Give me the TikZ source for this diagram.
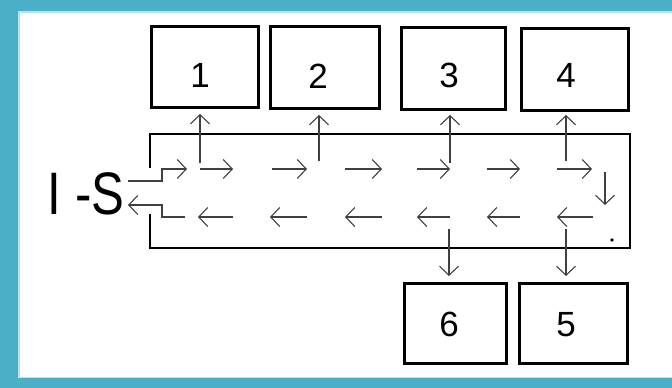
\documentclass[tikz,border=0pt]{standalone}
\usepackage{fontspec}
\setmainfont{Liberation Sans}
\usetikzlibrary{arrows.meta}
\definecolor{tealband}{HTML}{4BAFC8}
\definecolor{tealline}{HTML}{B8E2EC}
\begin{document}
\begin{tikzpicture}[x=1pt,y=-1pt,
  room/.style={draw=black, line width=2.6pt, inner sep=0pt},
  digit/.style={font=\fontsize{35}{35}\selectfont, anchor=base, inner sep=0pt},
  flow/.style={draw=black!75, line width=1.1pt, -{Straight Barb[length=9pt,width=19pt,line width=1.1pt]}},
  wall/.style={draw=black, line width=2.6pt, line cap=rect}]
\useasboundingbox (0,0) rectangle (672,388);
\fill[white] (0,0) rectangle (672,388);
% frame
\fill[tealband] (0,0) rectangle (18,388);
\fill[tealband] (0,0) rectangle (672,11);
\fill[tealband] (0,378) rectangle (672,388);
\draw[tealline, line width=1.5pt] (18.75,377.25) -- (18.75,11.75) -- (672,11.75);
\draw[tealline, line width=1.5pt] (18.75,377.25) -- (672,377.25);
% rooms
\node[room, minimum width=107.4pt, minimum height=81.4pt] (r1) at (205,67) {};
\node[room, minimum width=109.4pt, minimum height=82.4pt] (r2) at (325,67.5) {};
\node[room, minimum width=104.4pt, minimum height=82.4pt] (r3) at (453.5,68.5) {};
\node[room, minimum width=107.4pt, minimum height=82.4pt] (r4) at (575,69.5) {};
\node[room, minimum width=102.4pt, minimum height=80.4pt] (r6) at (455.5,323.5) {};
\node[room, minimum width=108.4pt, minimum height=80.4pt] (r5) at (573.5,323.5) {};
\node[digit] (n1) at (200,87.5) {1};
\node[digit] (n2) at (318,88.5) {2};
\node[digit] (n3) at (449,87.5) {3};
\node[digit] (n4) at (566,87.5) {4};
\node[digit] (n6) at (449,336.5) {6};
\node[digit] (n5) at (566,336.5) {5};
% channel
\draw[wall] (150,167) -- (150,134) -- (630,134) -- (630,248) -- (150,248) -- (150,215);
% label
\node[font=\fontsize{60}{60}\selectfont, anchor=base, inner sep=0pt] (IS) at (86,214) {\scalebox{0.82}[1]{I -S}};
% inlet and outlet
\coordinate (in0) at (128,181);
\coordinate (out0) at (185,217);
\draw[flow] (in0) -- (162,181) -- (162,169) -- (187,169);
\draw[flow] (out0) -- (162,217) -- (162,205) -- (128,205);
% flow arrows
\foreach \a/\b in {200/233, 272/307, 345/382, 417/450, 487/520, 557/592}
  \draw[flow] (\a,169) -- (\b,169);
\foreach \a/\b in {593/557, 520/487, 450/417, 382/345, 307/270, 233/198}
  \draw[flow] (\a,217) -- (\b,217);
\draw[flow] (605,172) -- (605,205);
% branches
\coordinate (b1) at (200,163);
\coordinate (b2) at (319,161);
\coordinate (b3) at (450,163);
\coordinate (b4) at (566,161);
\coordinate (b6) at (449,229);
\coordinate (b5) at (566,229);
\draw[flow, shorten >=5pt] (b1) -- (b1 |- r1.south);
\draw[flow, shorten >=5pt] (b2) -- (b2 |- r2.south);
\draw[flow, shorten >=4pt] (b3) -- (b3 |- r3.south);
\draw[flow, shorten >=3pt] (b4) -- (b4 |- r4.south);
\draw[flow, shorten >=6pt] (b6) -- (b6 |- r6.north);
\draw[flow, shorten >=6pt] (b5) -- (b5 |- r5.north);
\fill (612,240) circle (1.8pt);
\end{tikzpicture}
\end{document}
